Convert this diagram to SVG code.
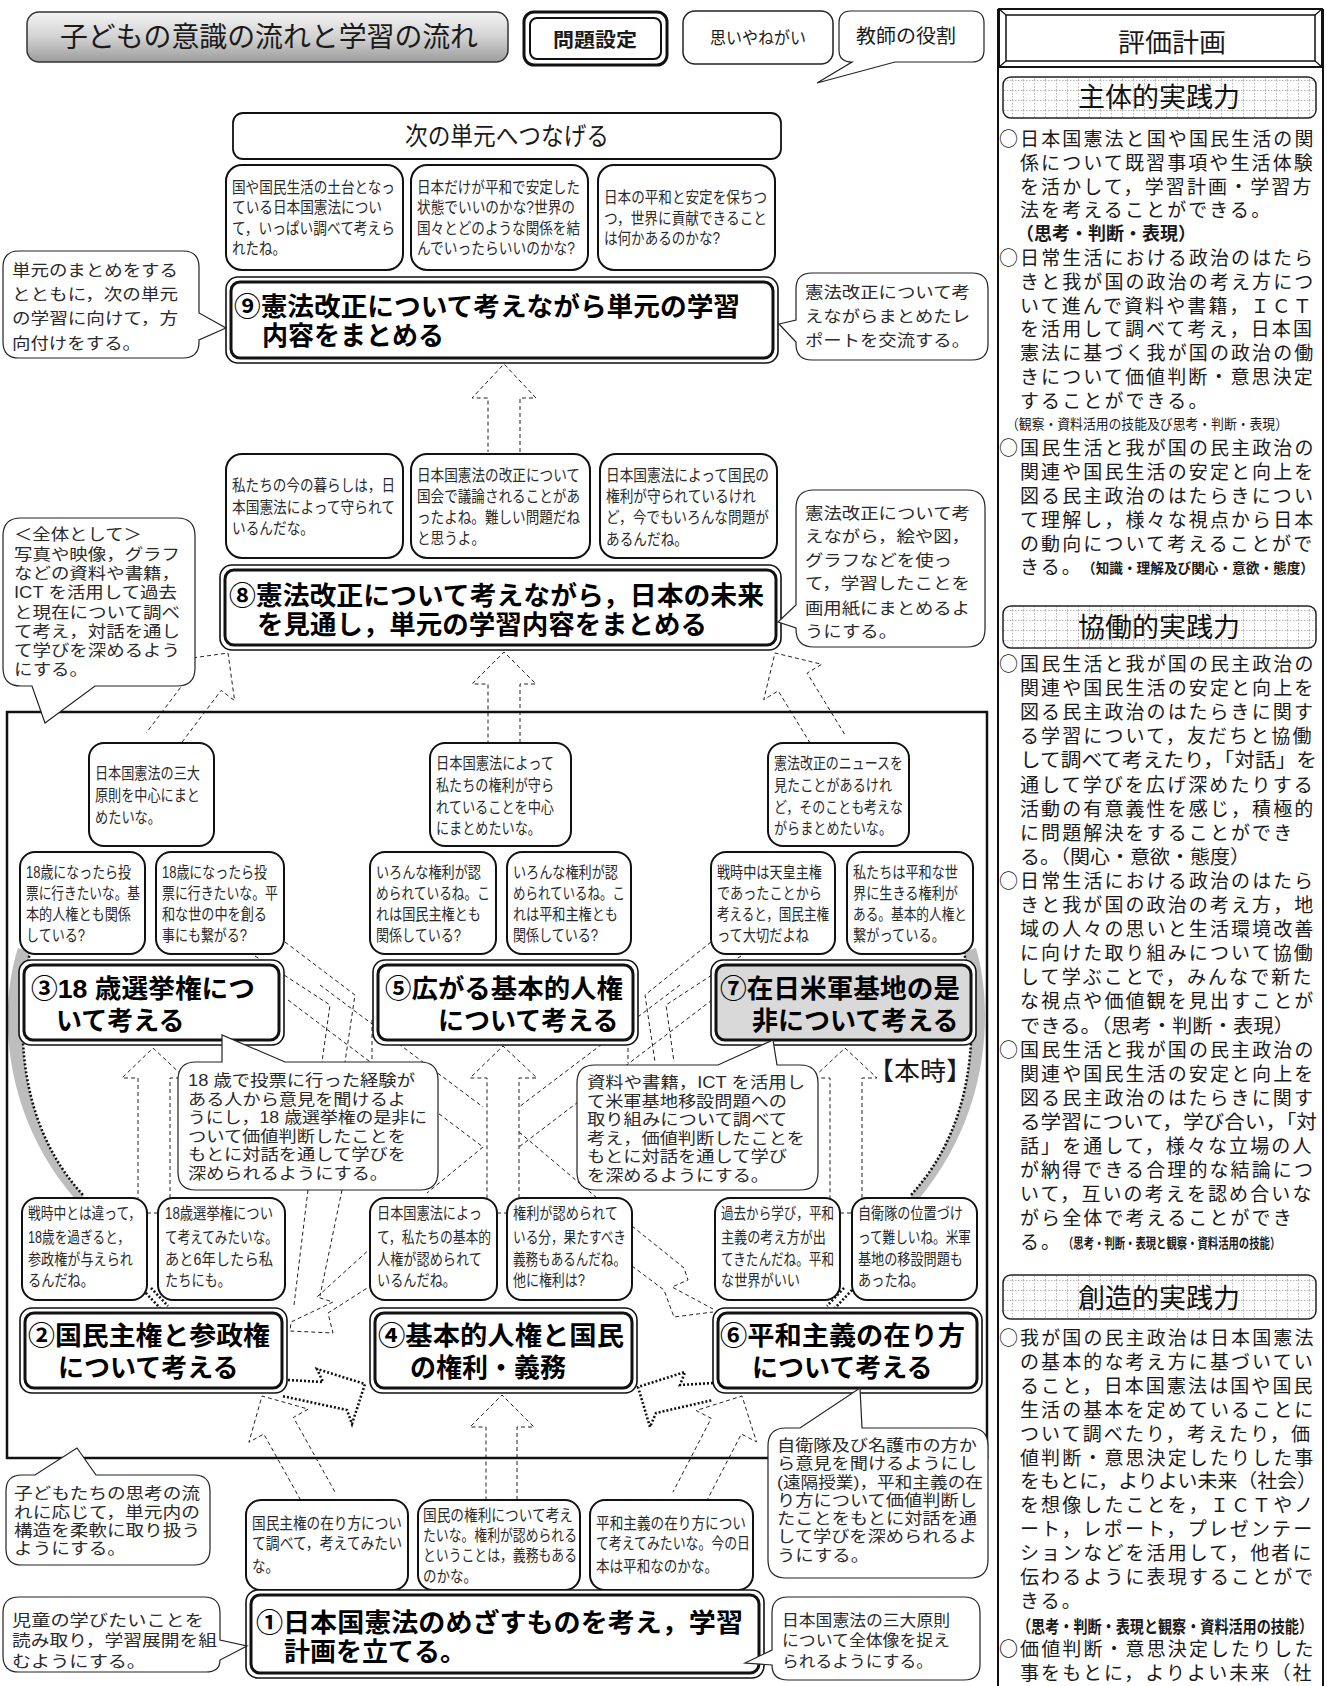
<svg xmlns="http://www.w3.org/2000/svg" width="1327" height="1686" viewBox="0 0 1327 1686">
<defs>
<linearGradient id="tg" x1="0" y1="0" x2="0" y2="1"><stop offset="0" stop-color="#f4f4f4"/><stop offset="0.5" stop-color="#d2d2d2"/><stop offset="1" stop-color="#9c9c9c"/></linearGradient>
<pattern id="grid" width="11" height="10" patternUnits="userSpaceOnUse"><path d="M0 0.5H11M0.5 0V10" stroke="#b8b8b8" stroke-width="1" stroke-dasharray="1.5 1.5" fill="none"/></pattern>
<style>
svg{font-family:"Liberation Sans","Noto Sans CJK JP",sans-serif}
text{fill:#1a1a1a}
.cj{font-family:"Noto Sans CJK JP",sans-serif}
.dash{fill:none;stroke:#222;stroke-width:1;stroke-dasharray:4 3}
.dot{fill:none;stroke:#111;stroke-width:2.6;stroke-dasharray:2 2}
.tb{fill:#fff;stroke:#111;stroke-width:2}
.cb{fill:#fff;stroke:#222;stroke-width:1.2}
.no{fill:#fff;stroke:#111;stroke-width:1.6}
.ni{fill:#fff;stroke:#111;stroke-width:3}
.gray{fill:#d9d9d9}
.t{font-size:16px;fill:#2a2a2a}
.c{font-size:16px;fill:#2a2a2a}
.n{font-size:26px;font-weight:bold;fill:#000}
.r{font-size:19px;letter-spacing:2.1px;fill:#1a1a1a}
.rs{font-size:14px;font-weight:bold}
.hd{font-size:27px;fill:#111}
</style>
</defs>
<rect x="0" y="0" width="1327" height="1686" fill="#fff"/>

<g id="title"><rect x="27" y="12" width="481" height="50" rx="12" fill="url(#tg)" stroke="#333" stroke-width="1.5"/><text x="60" y="47" font-size="28" textLength="418" lengthAdjust="spacingAndGlyphs">子どもの意識の流れと学習の流れ</text></g>
<g id="legend-problem"><rect x="524" y="12" width="143" height="53" rx="10" fill="#fff" stroke="#111" stroke-width="3"/><rect x="530" y="18" width="131" height="41" rx="7" fill="#fff" stroke="#111" stroke-width="2"/><text x="553" y="47" font-size="19" font-weight="bold" textLength="84" lengthAdjust="spacingAndGlyphs">問題設定</text></g>
<g id="legend-wish"><rect x="683" y="11" width="150" height="53" rx="12" fill="#fff" stroke="#222" stroke-width="1.5"/><text x="710" y="44" font-size="17" fill="#333" textLength="96" lengthAdjust="spacingAndGlyphs">思いやねがい</text></g>
<g id="legend-teacher"><path class="cb" d="M851 11 L972 11 Q984 11 984 23 L984 50 Q984 62 972 62 L895 62 L817 83 L852 62 Q839 62 839 50 L839 23 Q839 11 851 11 Z"/><text x="856" y="43" font-size="19" fill="#333" textLength="100" lengthAdjust="spacingAndGlyphs">教師の役割</text></g>

<g id="connectors">
<polyline class="dash" points="520,452 520,398 536,398 504,364 472,398 488,398 488,452"/>
<polyline class="dash" points="520,743 520,684 536,684 504,652 472,684 488,684 488,743"/>
<polyline class="dash" points="173.6,753.3 221.1,690.4 234.6,700.6 228,653 180.4,659.6 193.9,669.8 146.4,732.7"/>
<polyline class="dash" points="844.5,734.1 807.2,673.1 821.7,664.3 775,653 763.7,699.7 778.2,690.9 815.5,751.9"/>
<path d="M18 948 C-2 1010 2 1115 76 1200 L84 1196 C20 1128 14 1030 30 952 Z" fill="#bdbdbd"/>
<path class="dot" d="M30 952 C14 1030 20 1128 84 1196"/>
<path d="M976 948 C994 1010 990 1115 918 1200 L910 1196 C974 1128 980 1030 964 952 Z" fill="#bdbdbd"/>
<path class="dot" d="M964 952 C980 1030 974 1128 910 1196"/>
<path class="dot" d="M143 1290 L160 1308 M151 1288 L168 1306"/>
<path class="dot" d="M852 1290 L835 1308 M844 1288 L827 1306"/>
<polyline class="dash" points="170,1198 170,1078 185,1078 153,1048 122,1078 138,1078 138,1198"/>
<polyline class="dash" points="519,1198 519,1078 537,1078 503,1046 470,1078 487,1078 487,1198"/>
<polyline class="dash" points="862,1198 862,1078 877,1078 845,1048 813,1078 830,1078 830,1198"/>
<polyline class="dash" points="517,1500 517,1427 534,1427 502,1395 470,1427 486,1427 486,1500"/>
<polyline class="dash" points="285,942 355,995 345,1062"/>
<polyline class="dash" points="255,956 330,1005 322,1062"/>
<polyline class="dash" points="711,942 645,995 655,1062"/>
<polyline class="dash" points="741,956 666,1005 674,1062"/>
<line class="dash" x1="288" y1="1000" x2="483" y2="1147"/>
<line class="dash" x1="320" y1="985" x2="483" y2="1107"/>
<line class="dash" x1="483" y1="1147" x2="427" y2="1193"/>
<line class="dash" x1="712" y1="1000" x2="519" y2="1147"/>
<line class="dash" x1="680" y1="985" x2="519" y2="1107"/>
<line class="dash" x1="519" y1="1132" x2="597" y2="1198"/>
<line class="dash" x1="628" y1="1020" x2="628" y2="1063"/>
<line class="dash" x1="372" y1="1020" x2="372" y2="1063"/>
<polyline class="dash" points="308,1190 294,1305"/>
<polyline class="dash" points="342,1190 320,1296"/>
<polyline class="dash" points="372,1247 317,1297 333,1302 291,1322 290,1331 333,1333 328,1313 372,1285"/>
<polyline class="dash" points="632,1226 684,1268 688,1280 672,1287 713,1309"/>
<polyline class="dash" points="632,1266 664,1290 674,1317 713,1312"/>
<line class="dash" x1="147" y1="1213" x2="158" y2="1213"/>
<line class="dash" x1="497" y1="1213" x2="507" y2="1213"/>
<line class="dash" x1="840" y1="1213" x2="852" y2="1213"/>
<polyline class="dash" points="334.8,1491.7 293.4,1417.4 308.3,1409.1 262,1396 248.9,1442.3 263.8,1434 305.2,1508.3"/>
<polyline class="dash" points="703.1,1507.8 741.4,1434 756.5,1441.9 742,1396 696.1,1410.5 711.2,1418.4 672.9,1492.2"/>
<polyline class="dot" points="288,1380 323,1382 317,1369 365,1384 352,1424 347,1410 282,1396"/>
<polyline class="dot" points="713,1383 680,1385 685,1372 638,1387 650,1427 656,1413 713,1400"/>
</g>

<rect id="frame" x="7" y="712" width="980" height="746" fill="none" stroke="#111" stroke-width="2.5"/>

<g id="next-unit"><rect x="233" y="113" width="548" height="46" rx="10" fill="#fff" stroke="#111" stroke-width="1.8"/><text x="405" y="145" font-size="25" fill="#222" textLength="204" lengthAdjust="spacingAndGlyphs">次の単元へつなげる</text></g>

<g id="th9a"><rect class="tb" x="226" y="165" width="177" height="105" rx="16"/>
<text class="t" x="232" y="193" textLength="163" lengthAdjust="spacingAndGlyphs">国や国民生活の土台となっ</text>
<text class="t" x="232" y="213" textLength="150" lengthAdjust="spacingAndGlyphs">ている日本国憲法につい</text>
<text class="t" x="232" y="234" textLength="163" lengthAdjust="spacingAndGlyphs">て，いっぱい調べて考えら</text>
<text class="t" x="232" y="254" textLength="54" lengthAdjust="spacingAndGlyphs">れたね。</text></g>
<g id="th9b"><rect class="tb" x="411" y="165" width="177" height="105" rx="16"/>
<text class="t" x="417" y="193" textLength="163" lengthAdjust="spacingAndGlyphs">日本だけが平和で安定した</text>
<text class="t" x="417" y="213" textLength="158" lengthAdjust="spacingAndGlyphs">状態でいいのかな?世界の</text>
<text class="t" x="417" y="234" textLength="163" lengthAdjust="spacingAndGlyphs">国々とどのような関係を結</text>
<text class="t" x="417" y="254" textLength="158" lengthAdjust="spacingAndGlyphs">んでいったらいいのかな?</text></g>
<g id="th9c"><rect class="tb" x="598" y="165" width="177" height="105" rx="16"/>
<text class="t" x="604" y="203" textLength="163" lengthAdjust="spacingAndGlyphs">日本の平和と安定を保ちつ</text>
<text class="t" x="604" y="224" textLength="163" lengthAdjust="spacingAndGlyphs">つ，世界に貢献できること</text>
<text class="t" x="604" y="244" textLength="116" lengthAdjust="spacingAndGlyphs">は何かあるのかな?</text></g>

<g id="n9"><rect class="no" x="226" y="277" width="552" height="86" rx="12"/><rect class="ni" x="231" y="282" width="542" height="76" rx="9"/>
<text class="n" x="234" y="316" textLength="506" lengthAdjust="spacingAndGlyphs">⑨憲法改正について考えながら単元の学習</text>
<text class="n" x="262" y="345">内容をまとめる</text></g>

<g id="c9l"><path class="cb" d="M19 251 L183 251 Q199 251 199 267 L199 313 L226 328 L199 340 L199 342 Q199 358 183 358 L19 358 Q3 358 3 342 L3 267 Q3 251 19 251 Z"/>
<text class="c" x="12" y="276" textLength="166" lengthAdjust="spacingAndGlyphs">単元のまとめをする</text>
<text class="c" x="12" y="300" textLength="166" lengthAdjust="spacingAndGlyphs">とともに，次の単元</text>
<text class="c" x="12" y="324" textLength="166" lengthAdjust="spacingAndGlyphs">の学習に向けて，方</text>
<text class="c" x="12" y="349" textLength="129" lengthAdjust="spacingAndGlyphs">向付けをする。</text></g>
<g id="c9r"><path class="cb" d="M812 273 L972 273 Q988 273 988 289 L988 344 Q988 360 972 360 L812 360 Q796 360 796 344 L796 342 L779 324 L796 320 L796 289 Q796 273 812 273 Z"/>
<text class="c" x="805" y="298" textLength="165" lengthAdjust="spacingAndGlyphs">憲法改正について考</text>
<text class="c" x="805" y="322" textLength="165" lengthAdjust="spacingAndGlyphs">えながらまとめたレ</text>
<text class="c" x="805" y="346" textLength="165" lengthAdjust="spacingAndGlyphs">ポートを交流する。</text></g>

<g id="th8a"><rect class="tb" x="226" y="454" width="177" height="104" rx="16"/>
<text class="t" x="232" y="491" textLength="163" lengthAdjust="spacingAndGlyphs">私たちの今の暮らしは，日</text>
<text class="t" x="232" y="513" textLength="163" lengthAdjust="spacingAndGlyphs">本国憲法によって守られて</text>
<text class="t" x="232" y="534" textLength="82" lengthAdjust="spacingAndGlyphs">いるんだな。</text></g>
<g id="th8b"><rect class="tb" x="411" y="454" width="179" height="104" rx="16"/>
<text class="t" x="417" y="481" textLength="163" lengthAdjust="spacingAndGlyphs">日本国憲法の改正について</text>
<text class="t" x="417" y="502" textLength="163" lengthAdjust="spacingAndGlyphs">国会で議論されることがあ</text>
<text class="t" x="417" y="523" textLength="163" lengthAdjust="spacingAndGlyphs">ったよね。難しい問題だね</text>
<text class="t" x="417" y="544" textLength="68" lengthAdjust="spacingAndGlyphs">と思うよ。</text></g>
<g id="th8c"><rect class="tb" x="600" y="454" width="177" height="104" rx="16"/>
<text class="t" x="606" y="481" textLength="163" lengthAdjust="spacingAndGlyphs">日本国憲法によって国民の</text>
<text class="t" x="606" y="502" textLength="150" lengthAdjust="spacingAndGlyphs">権利が守られているけれ</text>
<text class="t" x="606" y="523" textLength="163" lengthAdjust="spacingAndGlyphs">ど，今でもいろんな問題が</text>
<text class="t" x="606" y="545" textLength="82" lengthAdjust="spacingAndGlyphs">あるんだね。</text></g>

<g id="n8"><rect class="no" x="220" y="565" width="561" height="85" rx="12"/><rect class="ni" x="225" y="570" width="551" height="75" rx="9"/>
<text class="n" x="229" y="605" textLength="535" lengthAdjust="spacingAndGlyphs">⑧憲法改正について考えながら，日本の未来</text>
<text class="n" x="257" y="634" textLength="450" lengthAdjust="spacingAndGlyphs">を見通し，単元の学習内容をまとめる</text></g>

<g id="c8l"><path class="cb" d="M21 518 L177 518 Q195 518 195 536 L195 668 Q195 686 177 686 L95 686 L45 723 L32 686 L21 686 Q3 686 3 668 L3 536 Q3 518 21 518 Z"/>
<text class="c" x="14" y="540" textLength="128" lengthAdjust="spacingAndGlyphs">＜全体として＞</text>
<text class="c" x="14" y="560" textLength="166" lengthAdjust="spacingAndGlyphs">写真や映像，グラフ</text>
<text class="c" x="14" y="579" textLength="166" lengthAdjust="spacingAndGlyphs">などの資料や書籍，</text>
<text class="c" x="14" y="598" textLength="163" lengthAdjust="spacingAndGlyphs">ICT を活用して過去</text>
<text class="c" x="14" y="618" textLength="166" lengthAdjust="spacingAndGlyphs">と現在について調べ</text>
<text class="c" x="14" y="637" textLength="166" lengthAdjust="spacingAndGlyphs">て考え，対話を通し</text>
<text class="c" x="14" y="656" textLength="166" lengthAdjust="spacingAndGlyphs">て学びを深めるよう</text>
<text class="c" x="14" y="675" textLength="74" lengthAdjust="spacingAndGlyphs">にする。</text></g>
<g id="c8r"><path class="cb" d="M814 490 L967 490 Q985 490 985 508 L985 629 Q985 647 967 647 L814 647 Q796 647 796 629 L796 628 L778 622 L796 605 L796 508 Q796 490 814 490 Z"/>
<text class="c" x="805" y="519" textLength="165" lengthAdjust="spacingAndGlyphs">憲法改正について考</text>
<text class="c" x="805" y="542" textLength="165" lengthAdjust="spacingAndGlyphs">えながら，絵や図，</text>
<text class="c" x="805" y="566" textLength="147" lengthAdjust="spacingAndGlyphs">グラフなどを使っ</text>
<text class="c" x="805" y="589" textLength="165" lengthAdjust="spacingAndGlyphs">て，学習したことを</text>
<text class="c" x="805" y="614" textLength="165" lengthAdjust="spacingAndGlyphs">画用紙にまとめるよ</text>
<text class="c" x="805" y="637" textLength="92" lengthAdjust="spacingAndGlyphs">うにする。</text></g>

<g id="f1a"><rect class="tb" x="89" y="743" width="125" height="103" rx="15"/>
<text class="t" x="95" y="779" textLength="105" lengthAdjust="spacingAndGlyphs">日本国憲法の三大</text>
<text class="t" x="95" y="801" textLength="105" lengthAdjust="spacingAndGlyphs">原則を中心にまと</text>
<text class="t" x="95" y="823" textLength="66" lengthAdjust="spacingAndGlyphs">めたいな。</text></g>
<g id="f1b"><rect class="tb" x="430" y="743" width="141" height="103" rx="15"/>
<text class="t" x="436" y="769" textLength="118" lengthAdjust="spacingAndGlyphs">日本国憲法によって</text>
<text class="t" x="436" y="791" textLength="118" lengthAdjust="spacingAndGlyphs">私たちの権利が守ら</text>
<text class="t" x="436" y="813" textLength="118" lengthAdjust="spacingAndGlyphs">れていることを中心</text>
<text class="t" x="436" y="834" textLength="105" lengthAdjust="spacingAndGlyphs">にまとめたいな。</text></g>
<g id="f1c"><rect class="tb" x="768" y="743" width="141" height="103" rx="15"/>
<text class="t" x="774" y="769" textLength="129" lengthAdjust="spacingAndGlyphs">憲法改正のニュースを</text>
<text class="t" x="774" y="791" textLength="118" lengthAdjust="spacingAndGlyphs">見たことがあるけれ</text>
<text class="t" x="774" y="813" textLength="129" lengthAdjust="spacingAndGlyphs">ど，そのことも考えな</text>
<text class="t" x="774" y="834" textLength="118" lengthAdjust="spacingAndGlyphs">がらまとめたいな。</text></g>

<g id="f2a"><rect class="tb" x="20" y="852" width="125" height="102" rx="15"/>
<text class="t" x="26" y="878" textLength="105" lengthAdjust="spacingAndGlyphs">18歳になったら投</text>
<text class="t" x="26" y="899" textLength="114" lengthAdjust="spacingAndGlyphs">票に行きたいな。基</text>
<text class="t" x="26" y="920" textLength="105" lengthAdjust="spacingAndGlyphs">本的人権とも関係</text>
<text class="t" x="26" y="941" textLength="59" lengthAdjust="spacingAndGlyphs">している?</text></g>
<g id="f2b"><rect class="tb" x="156" y="852" width="128" height="102" rx="15"/>
<text class="t" x="162" y="878" textLength="105" lengthAdjust="spacingAndGlyphs">18歳になったら投</text>
<text class="t" x="162" y="899" textLength="116" lengthAdjust="spacingAndGlyphs">票に行きたいな。平</text>
<text class="t" x="162" y="920" textLength="105" lengthAdjust="spacingAndGlyphs">和な世の中を創る</text>
<text class="t" x="162" y="941" textLength="85" lengthAdjust="spacingAndGlyphs">事にも繋がる?</text></g>
<g id="f2c"><rect class="tb" x="370" y="852" width="126" height="102" rx="15"/>
<text class="t" x="376" y="878" textLength="105" lengthAdjust="spacingAndGlyphs">いろんな権利が認</text>
<text class="t" x="376" y="899" textLength="114" lengthAdjust="spacingAndGlyphs">められているね。こ</text>
<text class="t" x="376" y="920" textLength="105" lengthAdjust="spacingAndGlyphs">れは国民主権とも</text>
<text class="t" x="376" y="941" textLength="85" lengthAdjust="spacingAndGlyphs">関係している?</text></g>
<g id="f2d"><rect class="tb" x="507" y="852" width="124" height="102" rx="15"/>
<text class="t" x="513" y="878" textLength="105" lengthAdjust="spacingAndGlyphs">いろんな権利が認</text>
<text class="t" x="513" y="899" textLength="112" lengthAdjust="spacingAndGlyphs">められているね。こ</text>
<text class="t" x="513" y="920" textLength="105" lengthAdjust="spacingAndGlyphs">れは平和主権とも</text>
<text class="t" x="513" y="941" textLength="85" lengthAdjust="spacingAndGlyphs">関係している?</text></g>
<g id="f2e"><rect class="tb" x="711" y="852" width="124" height="102" rx="15"/>
<text class="t" x="717" y="878" textLength="105" lengthAdjust="spacingAndGlyphs">戦時中は天皇主権</text>
<text class="t" x="717" y="899" textLength="105" lengthAdjust="spacingAndGlyphs">であったことから</text>
<text class="t" x="717" y="920" textLength="112" lengthAdjust="spacingAndGlyphs">考えると，国民主権</text>
<text class="t" x="717" y="941" textLength="92" lengthAdjust="spacingAndGlyphs">って大切だよね</text></g>
<g id="f2f"><rect class="tb" x="847" y="852" width="126" height="102" rx="15"/>
<text class="t" x="853" y="878" textLength="105" lengthAdjust="spacingAndGlyphs">私たちは平和な世</text>
<text class="t" x="853" y="899" textLength="105" lengthAdjust="spacingAndGlyphs">界に生きる権利が</text>
<text class="t" x="853" y="920" textLength="114" lengthAdjust="spacingAndGlyphs">ある。基本的人権と</text>
<text class="t" x="853" y="941" textLength="92" lengthAdjust="spacingAndGlyphs">繋がっている。</text></g>

<g id="n3"><rect class="no" x="19" y="960" width="265" height="85" rx="12"/><rect class="ni" x="24" y="965" width="255" height="75" rx="9"/>
<text class="n" x="31" y="998" textLength="224" lengthAdjust="spacingAndGlyphs">③18 歳選挙権につ</text>
<text class="n" x="56" y="1030">いて考える</text></g>
<g id="n5"><rect class="no" x="373" y="960" width="265" height="85" rx="12"/><rect class="ni" x="378" y="965" width="255" height="75" rx="9"/>
<text class="n" x="385" y="998" textLength="238" lengthAdjust="spacingAndGlyphs">⑤広がる基本的人権</text>
<text class="n" x="438" y="1030">について考える</text></g>
<g id="n7"><rect class="no" x="711" y="960" width="265" height="85" rx="12"/><rect class="ni gray" x="716" y="965" width="255" height="75" rx="9"/>
<text class="n" x="720" y="998" textLength="240" lengthAdjust="spacingAndGlyphs">⑦在日米軍基地の是</text>
<text class="n" x="752" y="1030">非について考える</text></g>
<text id="honji" x="868" y="1080" font-size="25" fill="#111" textLength="104" lengthAdjust="spacingAndGlyphs">【本時】</text>

<g id="f4a"><rect class="tb" x="22" y="1198" width="125" height="102" rx="15"/>
<text class="t" x="28" y="1219" textLength="113" lengthAdjust="spacingAndGlyphs">戦時中とは違って，</text>
<text class="t" x="28" y="1243" textLength="102" lengthAdjust="spacingAndGlyphs">18歳を過ぎると，</text>
<text class="t" x="28" y="1265" textLength="105" lengthAdjust="spacingAndGlyphs">参政権が与えられ</text>
<text class="t" x="28" y="1286" textLength="66" lengthAdjust="spacingAndGlyphs">るんだね。</text></g>
<g id="f4b"><rect class="tb" x="158" y="1198" width="127" height="102" rx="15"/>
<text class="t" x="165" y="1219" textLength="108" lengthAdjust="spacingAndGlyphs">18歳選挙権につい</text>
<text class="t" x="165" y="1243" textLength="113" lengthAdjust="spacingAndGlyphs">て考えてみたいな。</text>
<text class="t" x="165" y="1265" textLength="108" lengthAdjust="spacingAndGlyphs">あと6年したら私</text>
<text class="t" x="165" y="1286" textLength="66" lengthAdjust="spacingAndGlyphs">たちにも。</text></g>
<g id="f4c"><rect class="tb" x="370" y="1198" width="127" height="102" rx="15"/>
<text class="t" x="377" y="1219" textLength="105" lengthAdjust="spacingAndGlyphs">日本国憲法によっ</text>
<text class="t" x="377" y="1243" textLength="114" lengthAdjust="spacingAndGlyphs">て，私たちの基本的</text>
<text class="t" x="377" y="1265" textLength="105" lengthAdjust="spacingAndGlyphs">人権が認められて</text>
<text class="t" x="377" y="1286" textLength="79" lengthAdjust="spacingAndGlyphs">いるんだね。</text></g>
<g id="f4d"><rect class="tb" x="507" y="1198" width="125" height="102" rx="15"/>
<text class="t" x="513" y="1219" textLength="105" lengthAdjust="spacingAndGlyphs">権利が認められて</text>
<text class="t" x="513" y="1243" textLength="113" lengthAdjust="spacingAndGlyphs">いる分，果たすべき</text>
<text class="t" x="513" y="1265" textLength="113" lengthAdjust="spacingAndGlyphs">義務もあるんだね。</text>
<text class="t" x="513" y="1286" textLength="72" lengthAdjust="spacingAndGlyphs">他に権利は?</text></g>
<g id="f4e"><rect class="tb" x="715" y="1198" width="125" height="102" rx="15"/>
<text class="t" x="721" y="1219" textLength="113" lengthAdjust="spacingAndGlyphs">過去から学び，平和</text>
<text class="t" x="721" y="1243" textLength="105" lengthAdjust="spacingAndGlyphs">主義の考え方が出</text>
<text class="t" x="721" y="1265" textLength="113" lengthAdjust="spacingAndGlyphs">てきたんだね。平和</text>
<text class="t" x="721" y="1286" textLength="79" lengthAdjust="spacingAndGlyphs">な世界がいい</text></g>
<g id="f4f"><rect class="tb" x="852" y="1198" width="125" height="102" rx="15"/>
<text class="t" x="858" y="1219" textLength="105" lengthAdjust="spacingAndGlyphs">自衛隊の位置づけ</text>
<text class="t" x="858" y="1243" textLength="113" lengthAdjust="spacingAndGlyphs">って難しいね。米軍</text>
<text class="t" x="858" y="1265" textLength="105" lengthAdjust="spacingAndGlyphs">基地の移設問題も</text>
<text class="t" x="858" y="1286" textLength="66" lengthAdjust="spacingAndGlyphs">あったね。</text></g>

<g id="n2"><rect class="no" x="20" y="1308" width="267" height="85" rx="12"/><rect class="ni" x="25" y="1313" width="257" height="75" rx="9"/>
<text class="n" x="28" y="1345" textLength="242" lengthAdjust="spacingAndGlyphs">②国民主権と参政権</text>
<text class="n" x="58" y="1377">について考える</text></g>
<g id="n4"><rect class="no" x="370" y="1308" width="267" height="85" rx="12"/><rect class="ni" x="375" y="1313" width="257" height="75" rx="9"/>
<text class="n" x="378" y="1345" textLength="246" lengthAdjust="spacingAndGlyphs">④基本的人権と国民</text>
<text class="n" x="410" y="1377">の権利・義務</text></g>
<g id="n6"><rect class="no" x="713" y="1308" width="269" height="85" rx="12"/><rect class="ni" x="718" y="1313" width="259" height="75" rx="9"/>
<text class="n" x="720" y="1345" textLength="245" lengthAdjust="spacingAndGlyphs">⑥平和主義の在り方</text>
<text class="n" x="752" y="1377">について考える</text></g>

<g id="cl1"><path class="cb" d="M196 1062 L222 1062 L222 1035 L285 1062 L420 1062 Q438 1062 438 1080 L438 1172 Q438 1190 420 1190 L196 1190 Q178 1190 178 1172 L178 1080 Q178 1062 196 1062 Z"/>
<text class="c" x="188" y="1086" textLength="227" lengthAdjust="spacingAndGlyphs">18 歳で投票に行った経験が</text>
<text class="c" x="188" y="1104.5" textLength="218" lengthAdjust="spacingAndGlyphs">ある人から意見を聞けるよ</text>
<text class="c" x="188" y="1123" textLength="239" lengthAdjust="spacingAndGlyphs">うにし，18 歳選挙権の是非に</text>
<text class="c" x="188" y="1141.5" textLength="218" lengthAdjust="spacingAndGlyphs">ついて価値判断したことを</text>
<text class="c" x="188" y="1160" textLength="218" lengthAdjust="spacingAndGlyphs">もとに対話を通して学びを</text>
<text class="c" x="188" y="1178.5" textLength="200" lengthAdjust="spacingAndGlyphs">深められるようにする。</text></g>
<g id="cl2"><path class="cb" d="M595 1065 L718 1065 L773 1040 L777 1065 L800 1065 Q818 1065 818 1083 L818 1172 Q818 1190 800 1190 L595 1190 Q577 1190 577 1172 L577 1083 Q577 1065 595 1065 Z"/>
<text class="c" x="587" y="1088" textLength="218" lengthAdjust="spacingAndGlyphs">資料や書籍，ICT を活用し</text>
<text class="c" x="587" y="1106.5" textLength="200" lengthAdjust="spacingAndGlyphs">て米軍基地移設問題への</text>
<text class="c" x="587" y="1125" textLength="200" lengthAdjust="spacingAndGlyphs">取り組みについて調べて</text>
<text class="c" x="587" y="1143.5" textLength="218" lengthAdjust="spacingAndGlyphs">考え，価値判断したことを</text>
<text class="c" x="587" y="1162" textLength="200" lengthAdjust="spacingAndGlyphs">もとに対話を通して学び</text>
<text class="c" x="587" y="1180.5" textLength="182" lengthAdjust="spacingAndGlyphs">を深めるようにする。</text></g>
<g id="cl3"><path class="cb" d="M786 1428 L800 1428 L860 1388 L862 1428 L970 1428 Q988 1428 988 1446 L988 1560 Q988 1578 970 1578 L786 1578 Q768 1578 768 1560 L768 1446 Q768 1428 786 1428 Z"/>
<text class="c" x="777" y="1451" textLength="200" lengthAdjust="spacingAndGlyphs">自衛隊及び名護市の方か</text>
<text class="c" x="777" y="1469" textLength="200" lengthAdjust="spacingAndGlyphs">ら意見を聞けるようにし</text>
<text class="c" x="777" y="1487.5" textLength="206" lengthAdjust="spacingAndGlyphs">(遠隔授業)，平和主義の在</text>
<text class="c" x="777" y="1506" textLength="200" lengthAdjust="spacingAndGlyphs">り方について価値判断し</text>
<text class="c" x="777" y="1524" textLength="200" lengthAdjust="spacingAndGlyphs">たことをもとに対話を通</text>
<text class="c" x="777" y="1542" textLength="200" lengthAdjust="spacingAndGlyphs">して学びを深められるよ</text>
<text class="c" x="777" y="1560.5" textLength="92" lengthAdjust="spacingAndGlyphs">うにする。</text></g>
<g id="cl4"><path class="cb" d="M22 1475 L35 1475 L77 1448 L96 1475 L194 1475 Q210 1475 210 1491 L210 1549 Q210 1565 194 1565 L22 1565 Q6 1565 6 1549 L6 1491 Q6 1475 22 1475 Z"/>
<text class="c" x="14" y="1499" textLength="186" lengthAdjust="spacingAndGlyphs">子どもたちの思考の流</text>
<text class="c" x="14" y="1518" textLength="186" lengthAdjust="spacingAndGlyphs">れに応じて，単元内の</text>
<text class="c" x="14" y="1536" textLength="186" lengthAdjust="spacingAndGlyphs">構造を柔軟に取り扱う</text>
<text class="c" x="14" y="1554" textLength="112" lengthAdjust="spacingAndGlyphs">ようにする。</text></g>

<g id="b1"><rect class="tb" x="246" y="1500" width="162" height="90" rx="15"/>
<text class="t" x="252" y="1529" textLength="150" lengthAdjust="spacingAndGlyphs">国民主権の在り方につい</text>
<text class="t" x="252" y="1549" textLength="150" lengthAdjust="spacingAndGlyphs">て調べて，考えてみたい</text>
<text class="t" x="252" y="1572" textLength="27" lengthAdjust="spacingAndGlyphs">な。</text></g>
<g id="b2"><rect class="tb" x="418" y="1500" width="162" height="90" rx="15"/>
<text class="t" x="423" y="1521" textLength="150" lengthAdjust="spacingAndGlyphs">国民の権利について考え</text>
<text class="t" x="423" y="1541" textLength="154" lengthAdjust="spacingAndGlyphs">たいな。権利が認められる</text>
<text class="t" x="423" y="1561" textLength="154" lengthAdjust="spacingAndGlyphs">ということは，義務もある</text>
<text class="t" x="423" y="1582" textLength="54" lengthAdjust="spacingAndGlyphs">のかな。</text></g>
<g id="b3"><rect class="tb" x="590" y="1500" width="163" height="90" rx="15"/>
<text class="t" x="596" y="1529" textLength="150" lengthAdjust="spacingAndGlyphs">平和主義の在り方につい</text>
<text class="t" x="596" y="1549" textLength="154" lengthAdjust="spacingAndGlyphs">て考えてみたいな。今の日</text>
<text class="t" x="596" y="1572" textLength="122" lengthAdjust="spacingAndGlyphs">本は平和なのかな。</text></g>

<g id="n1"><rect class="no" x="246" y="1590" width="518" height="88" rx="12"/><rect class="ni" x="251" y="1595" width="508" height="78" rx="9"/>
<text class="n" x="256" y="1632" textLength="487" lengthAdjust="spacingAndGlyphs">①日本国憲法のめざすものを考え，学習</text>
<text class="n" x="284" y="1661">計画を立てる。</text></g>
<g id="c1l"><path class="cb" d="M19 1597 L204 1597 Q220 1597 220 1613 L220 1640 L247 1646 L220 1660 Q220 1672 206 1672 L19 1672 Q3 1672 3 1656 L3 1613 Q3 1597 19 1597 Z"/>
<text class="c" x="12" y="1626" textLength="192" lengthAdjust="spacingAndGlyphs">児童の学びたいことを</text>
<text class="c" x="12" y="1646" textLength="205" lengthAdjust="spacingAndGlyphs">読み取り，学習展開を組</text>
<text class="c" x="12" y="1667" textLength="134" lengthAdjust="spacingAndGlyphs">むようにする。</text></g>
<g id="c1r"><path class="cb" d="M788 1597 L964 1597 Q980 1597 980 1613 L980 1664 Q980 1680 964 1680 L788 1680 Q772 1680 772 1665 L745 1663 L772 1650 L772 1613 Q772 1597 788 1597 Z"/>
<text class="c" x="782" y="1626" textLength="168" lengthAdjust="spacingAndGlyphs">日本国憲法の三大原則</text>
<text class="c" x="782" y="1646" textLength="168" lengthAdjust="spacingAndGlyphs">について全体像を捉え</text>
<text class="c" x="782" y="1667" textLength="151" lengthAdjust="spacingAndGlyphs">られるようにする。</text></g>

<g id="eval-panel">
<line x1="998" y1="9" x2="998" y2="1686" stroke="#111" stroke-width="2"/>
<line x1="1323" y1="9" x2="1323" y2="1686" stroke="#111" stroke-width="2"/>
<rect x="999" y="9" width="323" height="58" fill="#fff" stroke="#111" stroke-width="2"/>
<rect x="1006" y="15" width="309" height="46" fill="#fff" stroke="#111" stroke-width="1.5"/>
<path d="M999 9 L1006 15 M1322 9 L1315 15 M999 67 L1006 61 M1322 67 L1315 61" stroke="#111" stroke-width="1.2"/>
<text x="1118" y="52" font-size="26" textLength="108" lengthAdjust="spacingAndGlyphs">評価計画</text>

<rect x="1003" y="77" width="313" height="41" rx="8" fill="#fff"/><rect x="1003" y="77" width="313" height="41" rx="8" fill="url(#grid)" stroke="#222" stroke-width="1.5"/>
<text class="hd" x="1078" y="107" textLength="162" lengthAdjust="spacingAndGlyphs">主体的実践力</text>
<text class="r" x="999" y="146"><tspan class="cj">○</tspan>日本国憲法と国や国民生活の関</text>
<text class="r" x="1020" y="169.8">係について既習事項や生活体験</text>
<text class="r" x="1020" y="193.6">を活かして，学習計画・学習方</text>
<text class="r" x="1020" y="217.4">法を考えることができる。</text>
<text x="1016" y="240" font-size="18" font-weight="bold">（思考・判断・表現）</text>
<text class="r" x="999" y="265"><tspan class="cj">○</tspan>日常生活における政治のはたら</text>
<text class="r" x="1020" y="288.8">きと我が国の政治の考え方につ</text>
<text class="r" x="1020" y="312.6">いて進んで資料や書籍，ＩＣＴ</text>
<text class="r" x="1020" y="336.4">を活用して調べて考え，日本国</text>
<text class="r" x="1020" y="360.2">憲法に基づく我が国の政治の働</text>
<text class="r" x="1020" y="384">きについて価値判断・意思決定</text>
<text class="r" x="1020" y="407.8">することができる。</text>
<text x="1006" y="429" font-size="14" textLength="282" lengthAdjust="spacingAndGlyphs">（観察・資料活用の技能及び思考・判断・表現）</text>
<text class="r" x="999" y="455.4"><tspan class="cj">○</tspan>国民生活と我が国の民主政治の</text>
<text class="r" x="1020" y="479.2">関連や国民生活の安定と向上を</text>
<text class="r" x="1020" y="503">図る民主政治のはたらきについ</text>
<text class="r" x="1020" y="526.8">て理解し，様々な視点から日本</text>
<text class="r" x="1020" y="550.6">の動向について考えることがで</text>
<text class="r" x="1020" y="574.4">きる。</text>
<text class="rs" x="1082" y="573" font-size="15" textLength="232" lengthAdjust="spacingAndGlyphs">（知識・理解及び関心・意欲・態度）</text>

<rect x="1003" y="606" width="313" height="42" rx="8" fill="#fff"/><rect x="1003" y="606" width="313" height="42" rx="8" fill="url(#grid)" stroke="#222" stroke-width="1.5"/>
<text class="hd" x="1078" y="637" textLength="162" lengthAdjust="spacingAndGlyphs">協働的実践力</text>
<text class="r" x="999" y="671"><tspan class="cj">○</tspan>国民生活と我が国の民主政治の</text>
<text class="r" x="1020" y="695.1">関連や国民生活の安定と向上を</text>
<text class="r" x="1020" y="719.2">図る民主政治のはたらきに関す</text>
<text class="r" x="1020" y="743.3">る学習について，友だちと協働</text>
<text class="r" x="1020" y="767.4" style="letter-spacing:0" textLength="297" lengthAdjust="spacingAndGlyphs">して調べて考えたり，「対話」を</text>
<text class="r" x="1020" y="791.5">通して学びを広げ深めたりする</text>
<text class="r" x="1020" y="815.6">活動の有意義性を感じ，積極的</text>
<text class="r" x="1020" y="839.7">に問題解決をすることができ</text>
<text class="r" x="1020" y="863.8" style="letter-spacing:0" textLength="230" lengthAdjust="spacingAndGlyphs">る。（関心・意欲・態度）</text>
<text class="r" x="999" y="887.9"><tspan class="cj">○</tspan>日常生活における政治のはたら</text>
<text class="r" x="1020" y="912">きと我が国の政治の考え方，地</text>
<text class="r" x="1020" y="936.1">域の人々の思いと生活環境改善</text>
<text class="r" x="1020" y="960.2">に向けた取り組みについて協働</text>
<text class="r" x="1020" y="984.3">して学ぶことで，みんなで新た</text>
<text class="r" x="1020" y="1008.4">な視点や価値観を見出すことが</text>
<text class="r" x="1020" y="1032.5" style="letter-spacing:0" textLength="274" lengthAdjust="spacingAndGlyphs">できる。（思考・判断・表現）</text>
<text class="r" x="999" y="1056.6"><tspan class="cj">○</tspan>国民生活と我が国の民主政治の</text>
<text class="r" x="1020" y="1080.7">関連や国民生活の安定と向上を</text>
<text class="r" x="1020" y="1104.8">図る民主政治のはたらきに関す</text>
<text class="r" x="1020" y="1128.9" style="letter-spacing:0" textLength="297" lengthAdjust="spacingAndGlyphs">る学習について，学び合い，「対</text>
<text class="r" x="1020" y="1153">話」を通して，様々な立場の人</text>
<text class="r" x="1020" y="1177.1">が納得できる合理的な結論につ</text>
<text class="r" x="1020" y="1201.2">いて，互いの考えを認め合いな</text>
<text class="r" x="1020" y="1225.3">がら全体で考えることができ</text>
<text class="r" x="1020" y="1249.4">る。</text>
<text class="rs" transform="translate(1063 1248) scale(0.74 1)">（思考・判断・表現と観察・資料活用の技能）</text>

<rect x="1003" y="1275" width="313" height="44" rx="8" fill="#fff"/><rect x="1003" y="1275" width="313" height="44" rx="8" fill="url(#grid)" stroke="#222" stroke-width="1.5"/>
<text class="hd" x="1078" y="1308" textLength="162" lengthAdjust="spacingAndGlyphs">創造的実践力</text>
<text class="r" x="999" y="1345"><tspan class="cj">○</tspan>我が国の民主政治は日本国憲法</text>
<text class="r" x="1020" y="1368.9">の基本的な考え方に基づいてい</text>
<text class="r" x="1020" y="1392.8">ること，日本国憲法は国や国民</text>
<text class="r" x="1020" y="1416.7">生活の基本を定めていることに</text>
<text class="r" x="1020" y="1440.6">ついて調べたり，考えたり，価</text>
<text class="r" x="1020" y="1464.5">値判断・意思決定したりした事</text>
<text class="r" x="1020" y="1488.4" style="letter-spacing:0" textLength="297" lengthAdjust="spacingAndGlyphs">をもとに，よりよい未来（社会）</text>
<text class="r" x="1020" y="1512.3">を想像したことを，ＩＣＴやノ</text>
<text class="r" x="1020" y="1536.2">ート，レポート，プレゼンテー</text>
<text class="r" x="1020" y="1560.1">ションなどを活用して，他者に</text>
<text class="r" x="1020" y="1584">伝わるように表現することがで</text>
<text class="r" x="1020" y="1607.9">きる。</text>
<text font-size="17" font-weight="bold" transform="translate(1017 1633) scale(0.83 1)">（思考・判断・表現と観察・資料活用の技能）</text>
<text class="r" x="999" y="1655.7"><tspan class="cj" font-weight="bold">○</tspan>価値判断・意思決定したりした</text>
<text class="r" x="1020" y="1679.6">事をもとに，よりよい未来（社</text>
</g>
</svg>
